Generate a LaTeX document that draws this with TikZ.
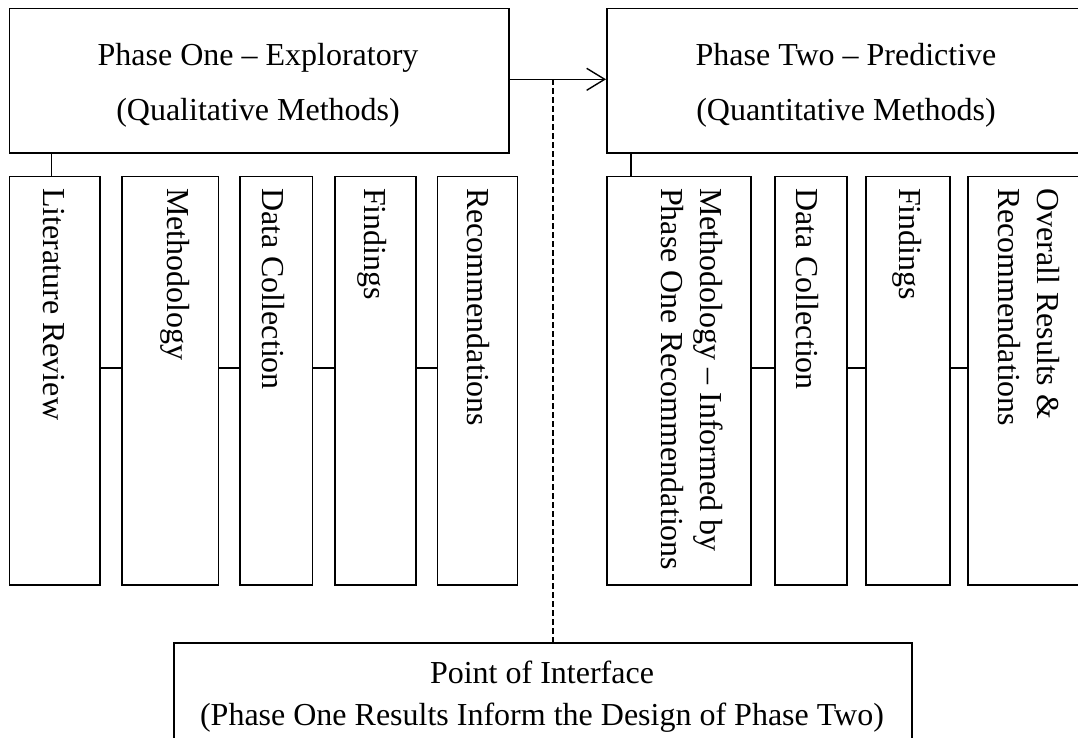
\documentclass[tikz,border=0pt]{standalone}
\usepackage{fontspec}
\setmainfont{Liberation Serif}
\usetikzlibrary{arrows.meta}
\begin{document}
\begin{tikzpicture}[x=1pt,y=-1pt,
  box/.style={draw, line width=1.7pt, rectangle, inner sep=0pt, anchor=north west},
  txt/.style={font=\fontsize{32}{38}\selectfont, inner sep=0pt},
  vtxt/.style={txt, rotate=-90, anchor=base west},
  link/.style={line width=1.4pt},
  dashlink/.style={line width=1.3pt, dash pattern=on 6pt off 3pt}]

% page frame
\clip (0,0) rectangle (1078,737);
\fill[white] (0,0) rectangle (1078,737);

% phase headers
\node[box, minimum width=499.4pt, minimum height=144.5pt] (p1) at (8.6,7.5) {};
\node[box, minimum width=484pt, minimum height=144.5pt] (p2) at (606,7.5) {};

\node[txt, anchor=base] (p1a) at (258,65.5) {Phase One – Exploratory};
\node[txt, anchor=base] (p1b) at (258,120.5) {(Qualitative Methods)};
\node[txt, anchor=base] (p2a) at (846,65.5) {Phase Two – Predictive};
\node[txt, anchor=base] (p2b) at (846,120.5) {(Quantitative Methods)};

% phase one steps
\node[box, minimum width=90.7pt, minimum height=408.5pt] (lr) at (8.6,175.5) {};
\node[box, minimum width=96.6pt, minimum height=408.5pt] (ma) at (121,175.5) {};
\node[box, minimum width=72.3pt, minimum height=408.5pt] (da) at (239.3,175.5) {};
\node[box, minimum width=81pt, minimum height=408.5pt] (fa) at (334,175.5) {};
\node[box, minimum width=79.9pt, minimum height=408.5pt] (ra) at (436.6,175.5) {};

\node[vtxt] (lrt) at (43.5,188) {Literature Review};
\node[vtxt] (mat) at (167,188) {Methodology};
\node[vtxt] (dat) at (262.5,188) {Data Collection};
\node[vtxt] (fat) at (364,188) {Findings};
\node[vtxt] (rat) at (467.5,188) {Recommendations};

% phase two steps
\node[box, minimum width=144pt, minimum height=408.5pt] (mb) at (606,175.5) {};
\node[box, minimum width=72pt, minimum height=408.5pt] (db) at (774,175.5) {};
\node[box, minimum width=84pt, minimum height=408.5pt] (fb) at (865,175.5) {};
\node[box, minimum width=128pt, minimum height=408.5pt] (ob) at (967,175.5) {};

\node[vtxt] (mbt1) at (700.3,188) {Methodology – Informed by};
\node[vtxt] (mbt2) at (661,188) {Phase One Recommendations};
\node[vtxt] (dbt) at (796.5,188) {Data Collection};
\node[vtxt] (fbt) at (899.5,188) {Findings};
\node[vtxt] (obt1) at (1037.5,188) {Overall Results \&};
\node[vtxt] (obt2) at (998.5,188) {Recommendations};

% interface
\node[box, minimum width=738pt, minimum height=130pt] (iface) at (173,642) {};
\node[txt, anchor=base] (ifa) at (542,683) {Point of Interface};
\node[txt, anchor=base] (ifb) at (542,725) {(Phase One Results Inform the Design of Phase Two)};

% connectors
\coordinate (c1) at (51.7,0);
\coordinate (c2) at (631,0);
\coordinate (hy) at (0,368);
\coordinate (ay) at (0,79.3);
\coordinate (tap) at (553,79.3);

\draw[link] (p1.south -| c1) -- (lr.north -| c1);
\draw[link] (p2.south -| c2) -- (mb.north -| c2);

\draw[link] (lr.east |- hy) -- (ma.west |- hy);
\draw[link] (ma.east |- hy) -- (da.west |- hy);
\draw[link] (da.east |- hy) -- (fa.west |- hy);
\draw[link] (fa.east |- hy) -- (ra.west |- hy);

\draw[link] (mb.east |- hy) -- (db.west |- hy);
\draw[link] (db.east |- hy) -- (fb.west |- hy);
\draw[link] (fb.east |- hy) -- (ob.west |- hy);

\draw[link, -{Straight Barb[length=18pt,width=22pt,line width=1.4pt]}] (p1.east |- ay) -- (p2.west |- ay);
\draw[dashlink] (tap) -- (iface.north -| tap);
\end{tikzpicture}
\end{document}
